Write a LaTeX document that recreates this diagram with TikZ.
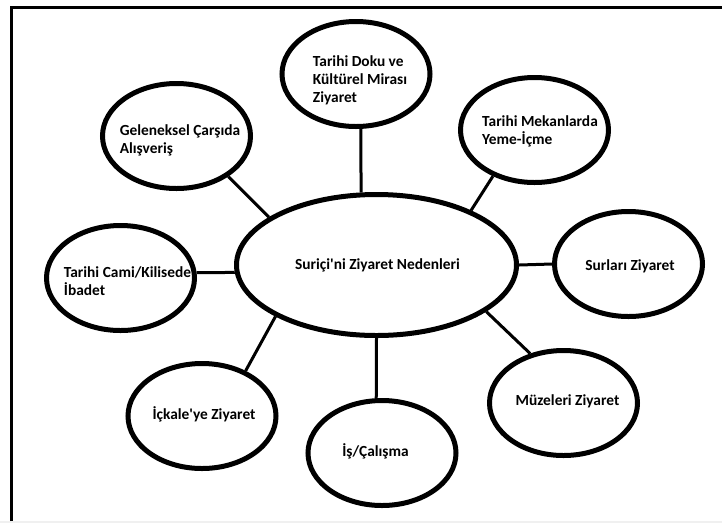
\documentclass[tikz,border=0pt]{standalone}
\usepackage{fontspec}
\setmainfont{Carlito}[Ligatures=TeXOff]
\usetikzlibrary{shapes.geometric}

\begin{document}
\begin{tikzpicture}[x=1pt, y=-1pt]
  \tikzstyle{bubble} = [draw, ellipse, line width=5pt, inner sep=0pt,
    minimum width=148pt, minimum height=105pt];
  \tikzstyle{txt} = [font=\bfseries\fontsize{15.4}{18}\selectfont, align=left, inner sep=0pt];
  \tikzstyle{link} = [line width=3pt];

  \useasboundingbox (0,0) rectangle (722,523);
  \fill[black!6] (0,520.5) rectangle (722,523);
  \draw[line width=3.5pt] (11.5,521) |- (722,7.5);

  % ellipses
  \node[bubble, minimum width=280pt, minimum height=141pt] (n0) at (376.5,265) {};
  \node[bubble] (n1) at (356,74) {};
  \node[bubble] (n2) at (176.5,136) {};
  \node[bubble] (n3) at (534.5,130) {};
  \node[bubble] (n4) at (628.5,264) {};
  \node[bubble] (n5) at (563.5,403) {};
  \node[bubble] (n6) at (382,453) {};
  \node[bubble] (n7) at (202,416) {};
  \node[bubble] (n8) at (120.5,278) {};

  % texts
  \node[txt] (t0) at (377.5,265) {Suriçi'ni Ziyaret Nedenleri};
  \node[txt] (t1) at (360,80) {Tarihi Doku ve\\Kültürel Mirası\\Ziyaret};
  \node[txt] (t2) at (180,140) {Geleneksel Çarşıda\\Alışveriş};
  \node[txt] (t3) at (540,131) {Tarihi Mekanlarda\\Yeme-İçme};
  \node[txt] (t4) at (630,266) {Surları Ziyaret};
  \node[txt] (t5) at (567.5,401) {Müzeleri Ziyaret};
  \node[txt] (t6) at (375.5,451) {İş/Çalışma};
  \node[txt] (t7) at (204,414) {İçkale'ye Ziyaret};
  \node[txt] (t8) at (127.5,281) {Tarihi Cami/Kilisede\\İbadet};

  \draw[link] (n0.102) -- (n1.-85) (n0.156) -- (n2.-38) (n0.30) -- (n3.-132)
    (n0.0) -- (n4.180) (n0.-23) -- (n5.124) (n0.-90) -- (n6.96)
    (n0.-153) -- (n7.46) (n0.183) -- (n8.4);
\end{tikzpicture}
\end{document}
